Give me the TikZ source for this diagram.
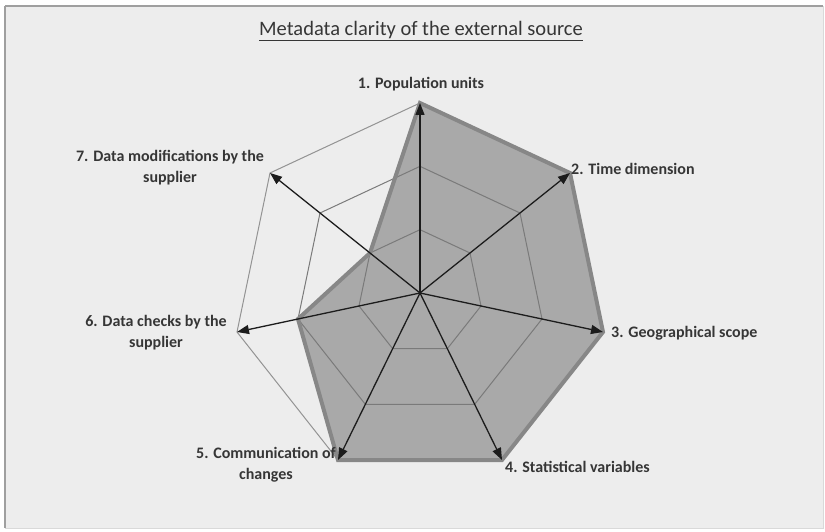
\documentclass[tikz,border=0pt]{standalone}
\usepackage{fontspec}
\setmainfont{Carlito}
\usetikzlibrary{calc,arrows.meta}
\definecolor{bgc}{HTML}{EDEDED}
\definecolor{fillc}{HTML}{A9A9A9}
\definecolor{strokec}{HTML}{878787}
\definecolor{gridc}{HTML}{7A7A7A}
\definecolor{txtc}{HTML}{363636}
\definecolor{axisc}{HTML}{1C1C1C}
\tikzset{
  lbl/.style={font=\fontsize{16}{21}\selectfont\bfseries, text=txtc, inner sep=1pt, align=center},
  ring/.style={draw=gridc, line width=1pt},
  outerring/.style={draw=strokec!90, line width=1pt},
  datapoly/.style={draw=strokec, line width=4pt, line join=miter},
  axisarrow/.style={draw=axisc, line width=1.3pt, -{Triangle[length=12pt,width=9pt]}},
}
\begin{document}
\begin{tikzpicture}[x=1pt,y=-1pt]
\useasboundingbox (0,0) rectangle (825,532);
\fill[white] (0,0) rectangle (825,532);
\fill[bgc] (5,6) rectangle (823,528);
\draw[gray!75, line width=1.5pt] (5,6) -- (5,528);
\draw[gray!75, line width=1.5pt] (5,6) -- (823,6);
\draw[gray!30, line width=0.8pt] (5,528) -- (823,528) -- (823,6);

\coordinate (c) at (420,293);
\coordinate (v1) at (420,103);
\coordinate (v2) at (570,173);
\coordinate (v3) at (603,332);
\coordinate (v4) at (502,460);
\coordinate (v5) at (338,460);
\coordinate (v6) at (237,332);
\coordinate (v7) at (270,173);

% title
\node[font=\fontsize{20.5}{24}\selectfont, text=txtc, inner sep=0pt] (title) at (421,31) {\underline{Metadata clarity of the external source}};

% data polygon fill
\fill[fillc] (v1) -- (v2) -- (v3) -- (v4) -- (v5) -- ($(c)!2/3!(v6)$) -- ($(c)!1/3!(v7)$) -- cycle;

% grid rings
\foreach \k in {1,2} {
  \draw[ring] ($(c)!\k/3!(v1)$) -- ($(c)!\k/3!(v2)$) -- ($(c)!\k/3!(v3)$) -- ($(c)!\k/3!(v4)$) -- ($(c)!\k/3!(v5)$) -- ($(c)!\k/3!(v6)$) -- ($(c)!\k/3!(v7)$) -- cycle;
}
\draw[outerring] (v1) -- (v2) -- (v3) -- (v4) -- (v5) -- (v6) -- (v7) -- cycle;

% data polygon stroke
\draw[datapoly] (v1) -- (v2) -- (v3) -- (v4) -- (v5) -- ($(c)!2/3!(v6)$) -- ($(c)!1/3!(v7)$) -- cycle;

% axes
\foreach \i in {1,...,7} {
  \draw[axisarrow] (c) -- (v\i);
}

% labels
\node[lbl] (l1) at (421,84) {1. Population units};
\node[lbl, anchor=west] (l2) at (570,169) {2. Time dimension};
\node[lbl, anchor=west] (l3) at (610,333) {3. Geographical scope};
\node[lbl, anchor=west] (l4) at (504,467) {4. Statistical variables};
\node[lbl] (l5) at (266,465) {5. Communication of\\changes};
\node[lbl] (l6) at (156,333) {6. Data checks by the\\supplier};
\node[lbl] (l7) at (170,168) {7. Data modifications by the\\supplier};
\end{tikzpicture}
\end{document}
